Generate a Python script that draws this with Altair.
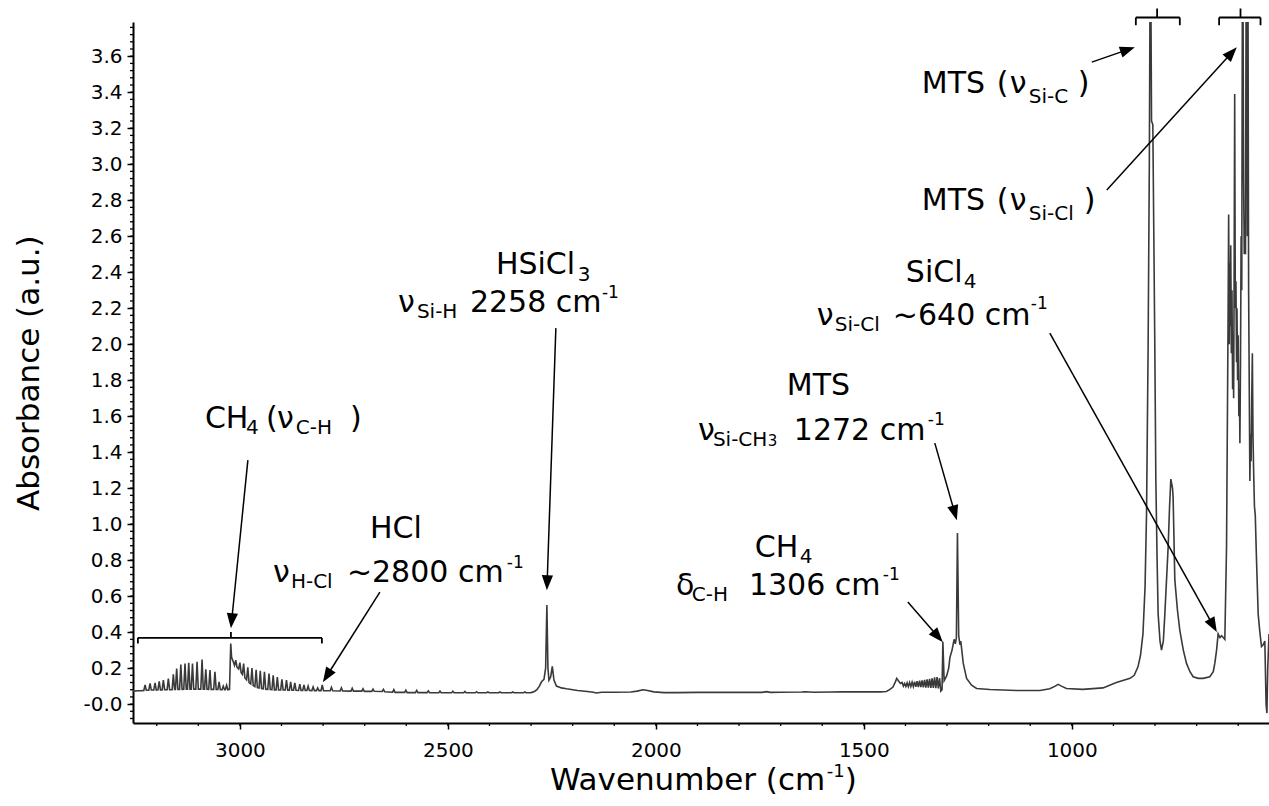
import math
import altair as alt
import pandas as pd

# ---------------- spectrum (wavenumber cm-1, absorbance) -------------
CH4_STRETCH_R = [
    (3257, 0.072), (3245, 0.074), (3236, 0.075),
    (3231, 0.076), (3228, 0.106), (3225, 0.077), (3219, 0.077), (3216, 0.115), (3213, 0.078),
    (3207, 0.078), (3204, 0.118), (3201, 0.078), (3197, 0.079), (3194, 0.127), (3191, 0.079),
    (3187, 0.079), (3184, 0.133), (3181, 0.080), (3175, 0.080), (3172, 0.142), (3169, 0.080),
    (3163, 0.080), (3160, 0.165), (3157, 0.081), (3155, 0.081), (3152, 0.198), (3149, 0.082),
    (3145, 0.082), (3142, 0.220), (3139, 0.082), (3135, 0.083), (3132, 0.226), (3129, 0.083),
    (3126, 0.083), (3123, 0.230), (3120, 0.083), (3117, 0.083), (3114, 0.226), (3111, 0.083),
    (3106, 0.083), (3103, 0.235), (3100, 0.083), (3094, 0.083), (3091, 0.248), (3088, 0.083),
    (3085, 0.083), (3082, 0.193), (3079, 0.083), (3075, 0.082), (3072, 0.189), (3069, 0.082),
    (3063, 0.082), (3060, 0.180), (3057, 0.081), (3053, 0.081), (3050, 0.124), (3047, 0.080),
    (3043, 0.080), (3040, 0.100), (3037, 0.080), (3035, 0.080), (3032, 0.105), (3029, 0.080),
    (3025, 0.082), (3022, 0.337), (3020, 0.260),
]
CH4_STRETCH_P = [
    (3016, 0.235), (3013, 0.215), (3010, 0.244), (3007, 0.205), (3003, 0.195), (3000, 0.230),
    (2997, 0.175), (2994, 0.165), (2991, 0.225), (2988, 0.145), (2984, 0.135), (2981, 0.205),
    (2978, 0.120), (2974, 0.112), (2971, 0.200), (2968, 0.103), (2964, 0.097), (2961, 0.190),
    (2958, 0.092), (2954, 0.090), (2951, 0.185), (2948, 0.086), (2944, 0.085), (2941, 0.180),
    (2938, 0.083), (2933, 0.082), (2930, 0.170), (2927, 0.081), (2923, 0.080), (2920, 0.160),
    (2917, 0.079), (2913, 0.079), (2910, 0.150), (2907, 0.078), (2902, 0.078), (2899, 0.137),
    (2896, 0.078), (2891, 0.078), (2888, 0.133), (2885, 0.077), (2881, 0.077), (2878, 0.124),
    (2875, 0.077), (2871, 0.077), (2868, 0.118), (2865, 0.077), (2859, 0.076), (2856, 0.111),
    (2853, 0.076), (2849, 0.076), (2846, 0.106), (2843, 0.076), (2839, 0.076), (2836, 0.100),
    (2833, 0.076), (2827, 0.075), (2824, 0.095), (2821, 0.075), (2816, 0.075), (2813, 0.090),
    (2810, 0.075),
]
HCL_LINES = [
    (2805, 0.075), (2802, 0.106), (2799, 0.075), (2783, 0.074), (2780, 0.093), (2777, 0.074),
    (2759, 0.073), (2756, 0.090), (2753, 0.073), (2733, 0.072), (2730, 0.088), (2727, 0.072),
    (2707, 0.072), (2704, 0.085), (2701, 0.071), (2683, 0.071), (2680, 0.083), (2677, 0.071),
    (2658, 0.070), (2655, 0.082), (2652, 0.069), (2633, 0.066), (2630, 0.080), (2627, 0.065),
    (2604, 0.065), (2601, 0.077), (2598, 0.064), (2578, 0.064), (2575, 0.076), (2572, 0.064),
    (2550, 0.064), (2547, 0.074), (2544, 0.064), (2522, 0.063), (2519, 0.072), (2516, 0.063),
    (2491, 0.063), (2488, 0.071), (2485, 0.063), (2462, 0.063), (2459, 0.070), (2456, 0.063),
    (2434, 0.063), (2431, 0.069), (2428, 0.063), (2407, 0.063), (2404, 0.068), (2401, 0.063),
    (2378, 0.063), (2375, 0.068), (2372, 0.063), (2347, 0.063), (2344, 0.067), (2341, 0.063),
    (2318, 0.063), (2315, 0.067), (2312, 0.063), (2300, 0.064),
]
HSICL3_REGION = [
    (2292, 0.070), (2286, 0.080), (2280, 0.100), (2275, 0.124), (2269, 0.137), (2265, 0.200),
    (2262, 0.550), (2259.5, 0.200), (2257, 0.133), (2253, 0.150), (2249, 0.210), (2245, 0.133),
    (2239, 0.100), (2227, 0.090), (2215, 0.085), (2188, 0.076), (2165, 0.070), (2150, 0.066),
    (2144, 0.062), (2130, 0.066), (2100, 0.066), (2060, 0.067), (2045, 0.072), (2031, 0.080),
    (2020, 0.076), (2005, 0.068), (1980, 0.064), (1950, 0.064), (1900, 0.065), (1850, 0.065),
    (1800, 0.065), (1745, 0.065), (1734, 0.069), (1725, 0.065), (1700, 0.066), (1650, 0.067),
    (1640, 0.069), (1620, 0.066), (1580, 0.067), (1550, 0.068), (1500, 0.068), (1460, 0.068),
    (1446, 0.070),
]
MID_REGION = [
    (1438, 0.080), (1430, 0.095), (1424, 0.125), (1421, 0.143), (1417, 0.130), (1412, 0.115),
    (1408, 0.120), (1405, 0.100), (1402, 0.115), (1399, 0.098), (1396, 0.118), (1393, 0.097),
    (1390, 0.120), (1387, 0.098), (1384, 0.122), (1381, 0.097), (1378, 0.125), (1375, 0.096),
    (1372, 0.128), (1369, 0.095), (1366, 0.130), (1363, 0.094), (1360, 0.132), (1357, 0.093),
    (1354, 0.135), (1351, 0.092), (1348, 0.138), (1345, 0.091), (1342, 0.140), (1339, 0.090),
    (1336, 0.143), (1333, 0.090), (1330, 0.148), (1327, 0.088), (1324, 0.150), (1321, 0.087),
    (1318, 0.145), (1315, 0.072), (1312, 0.080), (1310, 0.346), (1307, 0.130), (1301, 0.157),
    (1296, 0.200), (1293, 0.260), (1288, 0.300), (1283, 0.360), (1280, 0.335), (1277.5, 0.370),
    (1275, 0.950), (1272, 0.380), (1269, 0.330), (1267, 0.350), (1261, 0.226), (1253, 0.143),
    (1241, 0.105), (1229, 0.087), (1197, 0.081), (1133, 0.076), (1077, 0.076), (1053, 0.085),
    (1040, 0.100), (1033, 0.110), (1025, 0.100), (1013, 0.087), (974, 0.082), (925, 0.090),
    (893, 0.120), (860, 0.143), (850, 0.160), (841, 0.207), (835, 0.270), (829, 0.390),
    (824, 0.650), (820.4, 1.060), (816.6, 1.985), (813.7, 3.000), (812, 3.950), (810, 3.950),
    (808.4, 3.240), (805.3, 3.220), (803, 2.630), (800.5, 1.985), (798, 1.240), (795, 0.800),
    (792.5, 0.500), (788, 0.350), (784.4, 0.300), (780, 0.350), (776.4, 0.500), (768.5, 0.870),
    (765, 1.100), (762, 1.250), (758, 1.200), (756.5, 1.150), (752.4, 0.690), (746, 0.520),
    (740.4, 0.410), (732, 0.300), (724.3, 0.226), (716, 0.180), (708.4, 0.152), (696, 0.143),
    (684.4, 0.143), (668.3, 0.152), (660, 0.180), (656.3, 0.226), (652, 0.300), (648.3, 0.390),
    (644, 0.370), (640.1, 0.380), (636, 0.370), (632.2, 0.360), (628.1, 0.870),
]
SICL_REGION = [
    (624.3, 2.170), (623, 2.720), (621.5, 2.000), (620.5, 2.450), (619, 2.100), (618, 2.550),
    (616.5, 1.950), (615, 2.300), (613.5, 1.750), (612.3, 2.050), (611, 1.700), (610, 2.250),
    (608.5, 3.390), (607, 2.200), (605.5, 2.350), (604, 1.900), (603, 2.200), (601.5, 1.800),
    (600, 2.050), (598.5, 1.600), (597, 1.750), (596, 1.450), (594.5, 1.900), (593, 2.600),
    (591.5, 2.300), (590, 3.950), (588.5, 3.950), (587, 2.900), (585.5, 2.500), (584, 2.700),
    (582.5, 2.500), (581, 3.950), (579.5, 3.950), (578, 2.600), (576.5, 3.950), (575, 2.300),
    (573, 1.600), (572, 1.240), (570.5, 1.500), (569, 1.350), (567.5, 1.700), (566, 1.950),
    (564.5, 1.500), (563, 1.300), (561, 1.100), (559, 1.050), (556, 0.800), (552, 0.500),
    (548, 0.400), (544, 0.320), (540, 0.330), (536, 0.350), (533, 0.000), (531, -0.050),
    (529, 0.200), (526, 0.390),
]

# axis ticks
X_MAJOR = [1000, 1500, 2000, 2500, 3000]
X_MINOR = [600, 700, 800, 900, 1000, 1100, 1200, 1300, 1400, 1500, 1600, 1700, 1800, 1900,
           2000, 2100, 2200, 2300, 2400, 2500, 2600, 2700, 2800, 2900, 3000, 3100, 3200]
Y_MAJOR = [round(i * 0.2, 1) for i in range(0, 19)]
Y_MINOR = [round(i * 0.04, 2) for i in range(-2, 95)]

X_DOMAIN = [526, 3257]
Y_DOMAIN = [-0.105, 3.79]
W, H = 1136, 701

# annotation text pieces: (text, wavenumber of left edge, absorbance of baseline, font size)
ANNOTATION_TEXT = [
    ("CH", 3084.1, 1.533, 30), ("4", 2985.6, 1.50, 20), ("(", 2937.5, 1.533, 30),
    ("ν", 2911.1, 1.533, 30), ("C-H", 2865.6, 1.50, 20), (")", 2735.6, 1.533, 30),
    ("HCl", 2687.5, 0.922, 30), ("ν", 2920.7, 0.678, 30), ("H-Cl", 2877.4, 0.644, 20),
    ("~2800 cm", 2742.8, 0.678, 30), ("-1", 2358.2, 0.756, 17),
    ("HSiCl", 2384.6, 2.389, 30), ("3", 2187.5, 2.35, 20), ("ν", 2620.2, 2.178, 30),
    ("Si-H", 2574.5, 2.144, 20), ("2258 cm", 2447.1, 2.178, 30), ("-1", 2129.8, 2.256, 17),
    ("MTS", 1685.1, 1.717, 30), ("ν", 1899.0, 1.467, 30), ("Si-CH", 1862.9, 1.433, 20),
    ("3", 1730.8, 1.433, 15), ("1272 cm", 1668.3, 1.467, 30), ("-1", 1346.1, 1.55, 17),
    ("SiCl", 1399.0, 2.344, 30), ("4", 1259.6, 2.311, 20), ("ν", 1613.0, 2.106, 30),
    ("Si-Cl", 1569.7, 2.072, 20), ("~640 cm", 1430.3, 2.106, 30), ("-1", 1098.6, 2.194, 17),
    ("MTS", 1360.6, 3.394, 30), ("(", 1180.3, 3.394, 30), ("ν", 1149.0, 3.394, 30),
    ("Si-C", 1103.4, 3.339, 20), (")", 985.6, 3.394, 30),
    ("MTS", 1360.6, 2.744, 30), ("(", 1180.3, 2.744, 30), ("ν", 1149.0, 2.744, 30),
    ("Si-Cl", 1103.4, 2.689, 20), (")", 971.2, 2.744, 30),
    ("CH", 1762.0, 0.817, 30), ("4", 1653.8, 0.784, 20), ("δ", 1951.9, 0.606, 30),
    ("C-H", 1913.5, 0.572, 20), ("1306 cm", 1776.4, 0.606, 30), ("-1", 1454.3, 0.689, 17),
    # x-axis title
    ("Wavenumber (cm", 2254.8, -0.478, 31), ("-1", 1589.1, -0.406, 18), (")", 1545.7, -0.478, 31),
]
Y_TITLE = [("Absorbance (a.u.)", 3504.8, 1.839)]

# arrows: start (wn, ab) -> tip (wn, ab)
ARROWS = [
    (2980.8, 1.356, 3021.6, 0.422),
    (2663.5, 0.622, 2800.5, 0.122),
    (2240.4, 2.089, 2262.0, 0.633),
    (1329.4, 1.450, 1276.5, 1.022),
    (1052.9, 2.061, 651.4, 0.400),
    (952.0, 3.567, 848.6, 3.650),
    (915.9, 2.856, 603.4, 3.650),
    (1394.3, 0.567, 1310.0, 0.344),
]
# bracket segments (wn1, ab1, wn2, ab2)
BRACKETS = [
    (3245.2, 0.368, 2802.9, 0.368), (3245.2, 0.368, 3245.2, 0.337), (2802.9, 0.368, 2802.9, 0.337),
    (3021.6, 0.368, 3021.6, 0.400),
    (846.1, 3.815, 740.4, 3.815), (846.1, 3.815, 846.1, 3.772), (740.4, 3.815, 740.4, 3.772),
    (795.0, 3.815, 795.0, 3.865),
    (645.9, 3.815, 546.4, 3.815), (645.9, 3.815, 645.9, 3.772), (546.4, 3.815, 546.4, 3.772),
    (594.5, 3.815, 594.5, 3.865),
]

FONT = "DejaVu Sans"
LINE_COLOR = "#3a3a3a"

# ---------------- build tables ----------------
spec = pd.DataFrame(CH4_STRETCH_R + CH4_STRETCH_P + HCL_LINES + HSICL3_REGION + MID_REGION + SICL_REGION,
                    columns=["wn", "ab"])
spec["order"] = range(len(spec))

kx = W / (X_DOMAIN[1] - X_DOMAIN[0])
ky = H / (Y_DOMAIN[1] - Y_DOMAIN[0])
HEAD = 15.0
shafts, heads = [], []
for s_wn, s_ab, t_wn, t_ab in ARROWS:
    dx = -(t_wn - s_wn) * kx
    dy = -(t_ab - s_ab) * ky
    ln = math.hypot(dx, dy)
    ux, uy = dx / ln, dy / ln
    ang = math.degrees(math.atan2(ux, -uy)) % 360
    b_wn = t_wn + ux * HEAD * 0.8 / kx
    b_ab = t_ab + uy * HEAD * 0.8 / ky
    shafts.append({"x": s_wn, "y": s_ab, "x2": b_wn, "y2": b_ab})
    heads.append({"x": t_wn, "y": t_ab, "angle": ang})
shafts = pd.DataFrame(shafts)
heads = pd.DataFrame(heads)
brackets = pd.DataFrame(BRACKETS, columns=["x", "y", "x2", "y2"])
texts = pd.DataFrame(ANNOTATION_TEXT, columns=["text", "x", "y", "size"])
ytitle = pd.DataFrame(Y_TITLE, columns=["text", "x", "y"])
xminor = pd.DataFrame({"v": X_MINOR})
yminor = pd.DataFrame({"v": Y_MINOR})

xscale = alt.Scale(domain=X_DOMAIN, reverse=True, nice=False, zero=False)
yscale = alt.Scale(domain=Y_DOMAIN, nice=False, zero=False)

xaxis = alt.Axis(values=X_MAJOR, format="d", title=None, grid=False, tickSize=6, tickWidth=1.5,
                 tickColor="black", domainColor="black", domainWidth=2, labelFont=FONT,
                 labelFontSize=20, labelColor="black", labelPadding=11, labelFlush=False)
yaxis = alt.Axis(values=Y_MAJOR, title=None, grid=False, tickSize=6, tickWidth=1.5,
                 tickColor="black", domainColor="black", domainWidth=2, labelFont=FONT,
                 labelFontSize=20, labelColor="black", labelPadding=5, labelFlush=False,
                 labelExpr="datum.value == 0 ? '-0.0' : format(datum.value, '.1f')")


def X(field):
    return alt.X(field, scale=xscale, axis=xaxis)


def Y(field):
    return alt.Y(field, scale=yscale, axis=yaxis)


line = alt.Chart(spec).mark_line(color=LINE_COLOR, strokeWidth=1.6, clip=True).encode(
    x=X("wn:Q"), y=Y("ab:Q"), order="order:Q")

xminor_ticks = alt.Chart(xminor).mark_rule(color="black", strokeWidth=1.3).encode(
    x=X("v:Q"), y=alt.value(H), y2=alt.value(H + 3))
yminor_ticks = alt.Chart(yminor).mark_rule(color="black", strokeWidth=1.3).encode(
    y=Y("v:Q"), x=alt.value(0), x2=alt.value(-3))

shaft_layer = alt.Chart(shafts).mark_rule(color="black", strokeWidth=1.5).encode(
    x=X("x:Q"), x2="x2:Q", y=Y("y:Q"), y2="y2:Q")
head_layer = alt.Chart(heads).mark_point(
    shape="M0,0L0.45,1.2L-0.45,1.2Z", filled=True, color="black", opacity=1,
    size=625, strokeWidth=0).encode(
    x=X("x:Q"), y=Y("y:Q"), angle=alt.Angle("angle:Q", scale=None))
bracket_layer = alt.Chart(brackets).mark_rule(color="black", strokeWidth=1.8).encode(
    x=X("x:Q"), x2="x2:Q", y=Y("y:Q"), y2="y2:Q")
text_layer = alt.Chart(texts).mark_text(
    align="left", baseline="alphabetic", font=FONT, color="black").encode(
    x=X("x:Q"), y=Y("y:Q"), text="text:N",
    size=alt.Size("size:Q", scale=None, legend=None))
ytitle_layer = alt.Chart(ytitle).mark_text(
    align="center", baseline="middle", font=FONT, fontSize=31, color="black", angle=270).encode(
    x=X("x:Q"), y=Y("y:Q"), text="text:N")

chart = alt.layer(
    line, xminor_ticks, yminor_ticks, bracket_layer, shaft_layer, head_layer, text_layer, ytitle_layer
).properties(
    width=W, height=H,
    padding={"left": 133, "top": 22, "right": 0, "bottom": 83},
    autosize=alt.AutoSizeParams(type="none"),
    background="white",
).configure_view(stroke=None)

chart.save("out.html", embed_options={"renderer": "svg", "actions": False})
